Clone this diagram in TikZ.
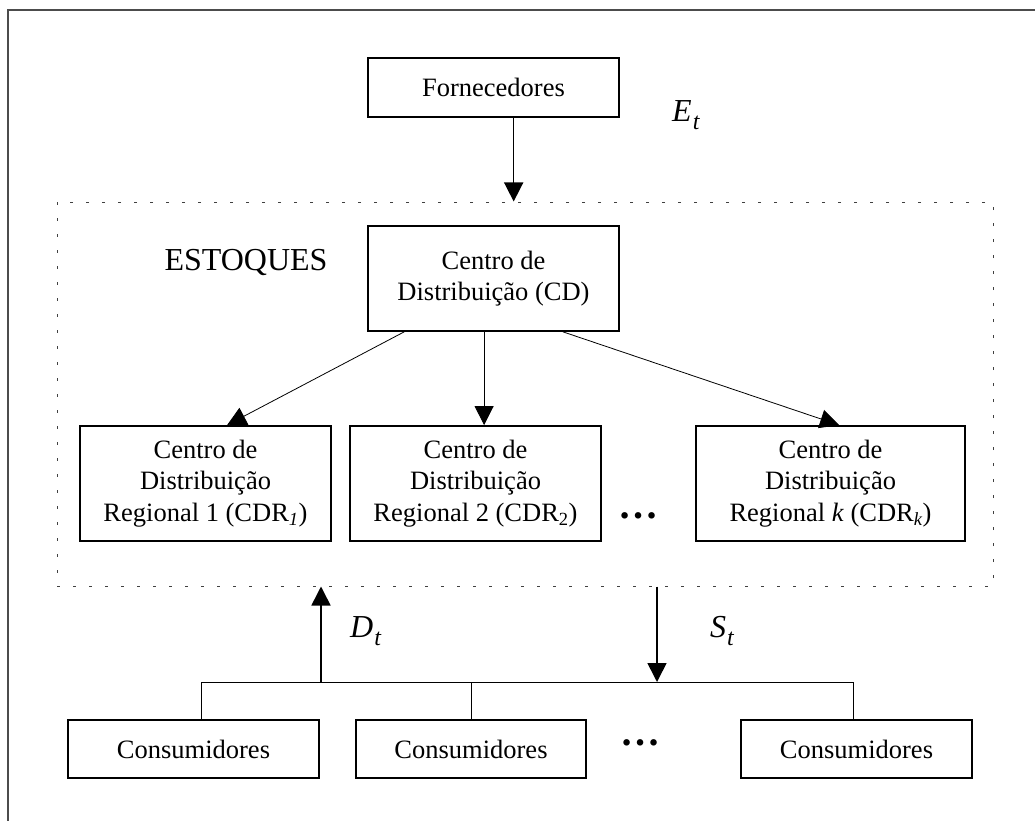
\documentclass[tikz,border=0pt]{standalone}
\usepackage{fontspec}
\setmainfont{Liberation Serif}
\usetikzlibrary{arrows.meta,calc}
\tikzset{
  box/.style={draw, line width=1.3pt, align=center, inner sep=0pt, font=\fontsize{26.5}{31.5}\selectfont},
  thickbox/.style={box, line width=1.8pt},
  stockbox/.style={draw=black!75, line width=1pt, dash pattern=on 3pt off 13pt, inner sep=0pt},
  bigarr/.style={-{Triangle[length=19pt,width=19pt]}, line width=1.6pt},
  thinarr/.style={-{Triangle[length=19pt,width=19pt]}, line width=0.8pt},
  busline/.style={line width=0.9pt},
  lbl/.style={inner sep=0pt, font=\fontsize{32}{32}\selectfont},
  dotlbl/.style={inner sep=0pt, anchor=base, font=\fontsize{40}{40}\selectfont\bfseries}
}
\newcommand{\varsub}[2]{{\itshape #1\kern1pt\raisebox{-8pt}{\fontsize{24}{24}\selectfont #2}}}
\begin{document}
\begin{tikzpicture}[x=1pt,y=-1pt]
\useasboundingbox (0,0) rectangle (1035,821);
\draw[black!70, line width=1.5pt] (8,821) -- (8,10) -- (1035,10);

\node[stockbox, minimum width=936pt, minimum height=384pt] (stock) at (525,394) {};

\node[box, minimum width=251pt, minimum height=59pt] (forn) at (493.5,87.5) {Fornecedores};
\node[thickbox, minimum width=251pt, minimum height=105pt] (cd) at (493.5,278.5) {Centro de\\Distribuição (CD)};
\node[thickbox, minimum width=251pt, minimum height=115pt] (cdr1) at (205.5,483.5) {Centro de\\Distribuição\\Regional 1 (CDR\textsubscript{\itshape 1})};
\node[thickbox, minimum width=251pt, minimum height=115pt] (cdr2) at (475.5,483.5) {Centro de\\Distribuição\\Regional 2 (CDR\textsubscript{2})};
\node[thickbox, minimum width=269pt, minimum height=115pt] (cdrk) at (830.5,483.5) {Centro de\\Distribuição\\Regional \textit{k} (CDR\textsubscript{\itshape k})};
\node[dotlbl] (dots1) at (638,518) {…};

\node[box, minimum width=251pt, minimum height=58pt] (cons1) at (193.5,749) {Consumidores};
\node[box, minimum width=230pt, minimum height=58pt] (cons2) at (471,749) {Consumidores};
\node[box, minimum width=231pt, minimum height=58pt] (cons3) at (856.5,749) {Consumidores};
\node[dotlbl] (dots2) at (640,745) {…};

\node[lbl] (estoques) at (246,262) {ESTOQUES};
\node[lbl, anchor=base west] (et) at (672,122) {\varsub{E}{t}};
\node[lbl, anchor=base west] (dt) at (350,637) {\varsub{D}{t}};
\node[lbl, anchor=base west] (st) at (710,637) {\varsub{S}{t}};

% supplier arrow
\coordinate (fornout) at ($(forn.south west)!0.58!(forn.south east)$);
\draw[bigarr] (fornout) -- (fornout |- stock.north);

% CD to regional
\draw[thinarr] ($(cd.south west)+(37,0)$) -- ($(cdr1.north west)+(148,0)$);
\coordinate (cdmid) at ($(cd.south west)+(117,0)$);
\draw[thinarr] (cdmid) -- (cdmid |- cdr2.north);
\draw[thinarr] ($(cd.south west)+(196,0)$) -- ($(cdrk.north west)+(144,0)$);

% consumer bus
\coordinate (busL) at (201,682);
\coordinate (busR) at (853,682);
\draw[busline] (busL) -- (busR);
\draw[busline] (busL) -- (busL |- cons1.north);
\draw[busline] (cons2.north |- busL) -- (cons2.north);
\draw[busline] (busR) -- (busR |- cons3.north);

% demand and supply arrows
\coordinate (dtx) at (321,682);
\draw[bigarr] (dtx) -- (dtx |- stock.south);
\coordinate (stx) at (657,682);
\draw[bigarr] (stx |- stock.south) -- (stx);
\end{tikzpicture}
\end{document}
